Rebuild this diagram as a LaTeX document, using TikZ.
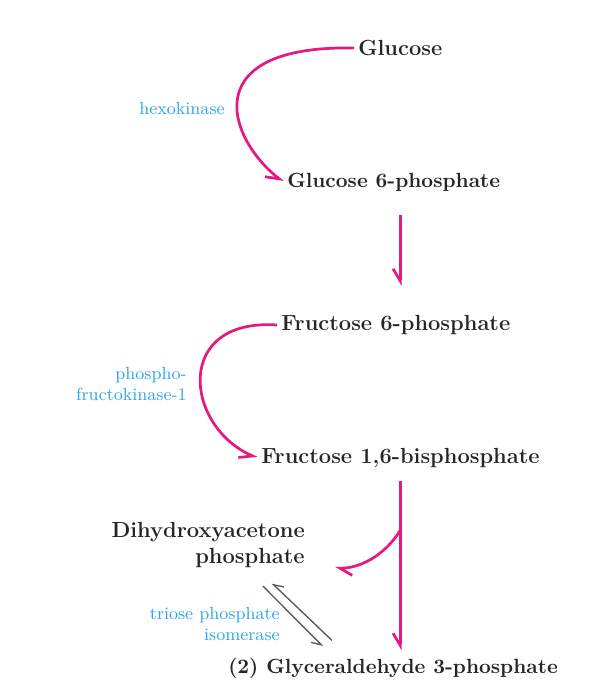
\documentclass[tikz,border=0pt]{standalone}
\usetikzlibrary{arrows.meta, calc}
\definecolor{rxnpink}{RGB}{230,25,125}
\definecolor{enzblue}{RGB}{45,165,230}
\tikzset{
  metab/.style={font=\fontsize{11.2}{13.5}\selectfont\bfseries, text=black!85, inner sep=2pt},
  enzyme/.style={font=\small, text=enzblue, inner sep=1pt},
  rxn/.style={draw=rxnpink, line width=1.4pt, -{Straight Barb[harpoon,swap,length=2.2mm,width=2.6mm]}},
  iso/.style={draw=black!65, line width=0.7pt, -{Straight Barb[harpoon,swap,length=1.6mm,width=2mm]}}
}

\begin{document}
\begin{tikzpicture}[x=0.018cm, y=-0.018cm]
  \useasboundingbox (0,0) rectangle (608,689);
  \node[metab, anchor=west] (glc) at (354,48) {Glucose};
  \node[metab, anchor=west, font=\fontsize{10.5}{12.5}\selectfont\bfseries] (g6p) at (283,182) {Glucose 6-phosphate};
  \node[metab, anchor=west] (f6p) at (277,325) {Fructose 6-phosphate};
  \node[metab, anchor=west] (fbp) at (257,458) {Fructose 1,6-bisphosphate};
  \node[metab, anchor=east, align=right] (dhap) at (309,545) {Dihydroxyacetone\\phosphate};
  \node[metab, anchor=west, font=\fontsize{10.5}{12.5}\selectfont\bfseries] (gap) at (224,668) {(2) Glyceraldehyde 3-phosphate};
  \node[enzyme, anchor=east] (hk) at (227,108) {hexokinase};
  \node[enzyme, anchor=east, align=right] (pfk) at (189,384) {phospho-\\fructokinase-1};
  \node[enzyme, anchor=east, align=right] (tpi) at (282,624) {triose phosphate\\isomerase};

  % curved steps
  \draw[rxn] (glc.west) .. controls +(-155,-3) and +(-58,-47) .. (g6p.west);
  \draw[rxn] (f6p.west) .. controls +(-103,-7) and +(-73,-33) .. (fbp.west);
  \draw[rxn] ($(g6p.south -| glc.center)+(0,20)$) -- ($(f6p.north -| glc.center)+(0,-25)$);

  % aldolase split
  \coordinate (top) at ($(fbp.south -| glc.center)+(0,9)$);
  \coordinate (bot) at ($(gap.north -| glc.center)+(0,-3)$);
  \coordinate (br) at ($(top)!0.29!(bot)$);
  \draw[rxn] (top) -- (bot);
  \draw[rxn, -{Straight Barb[harpoon,length=2.2mm,width=2.6mm]}] (br) .. controls +(-15,25) and +(25,0) .. ($(dhap.south east)+(26,-4)$);

  % triose phosphate isomerase
  \draw[iso] ($(dhap.south east)+(-46,14)$) -- ($(gap.north west)+(99,-7)$);
  \draw[iso] ($(gap.north west)+(108,-13)$) -- ($(dhap.south east)+(-37,11)$);
\end{tikzpicture}
\end{document}
